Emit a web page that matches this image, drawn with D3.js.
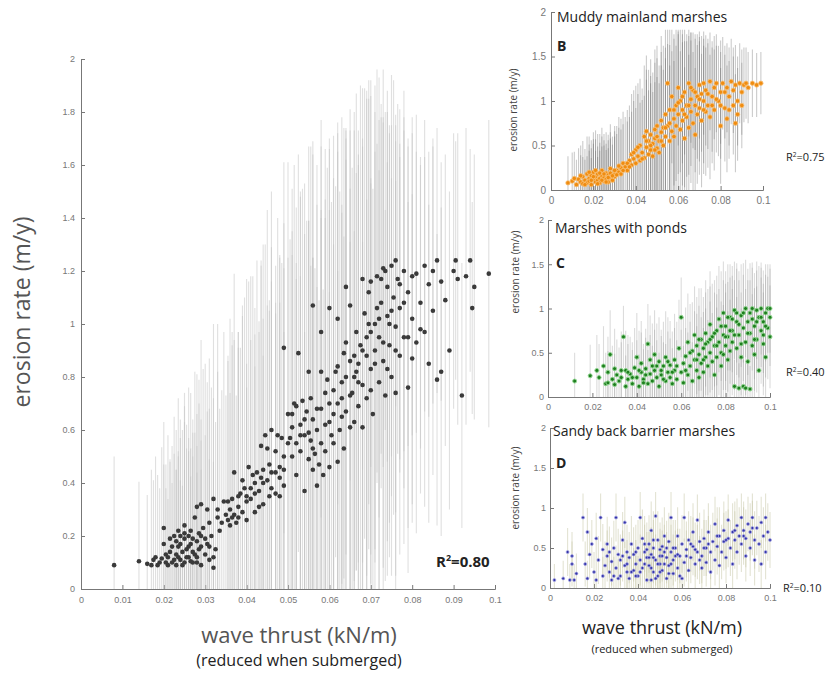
<html lang="en">
  <head>
    <meta charset="UTF-8" />
    <title>Erosion rate vs wave thrust</title>
    <script src="https://d3js.org/d3.v7.min.js"></script>
  </head>
  <style>
    body {
      margin: 0px;
      overflow: hidden;
      background: #fff;
    }
    .tick text {
      font-family: "Liberation Sans", Arial, sans-serif;
      fill: #777;
    }
    .lbl {
      font-family: "Open Sans", sans-serif;
    }
  </style>
  <body>
    <svg width="834" height="674"></svg>
  </body>
  <footer>
    <script>
      // [wave thrust, erosion rate, error half-width]
      var mainPts = [
        [0.008,0.09,0.41],[0.014,0.105,0.3],[0.016,0.095,0.26],[0.017,0.09,0.36],[0.018,0.12,0.38],[0.019,0.1,0.28],
        [0.0195,0.115,0.42],[0.02,0.23,0.4],[0.02,0.17,0.3],[0.0205,0.13,0.34],[0.021,0.09,0.25],[0.021,0.12,0.46],
        [0.022,0.16,0.38],[0.022,0.1,0.3],[0.0225,0.2,0.45],[0.023,0.13,0.32],[0.023,0.09,0.36],[0.0235,0.22,0.5],
        [0.024,0.17,0.4],[0.024,0.11,0.3],[0.0245,0.14,0.46],[0.025,0.21,0.42],[0.025,0.19,0.5],[0.025,0.1,0.35],
        [0.0255,0.15,0.38],[0.026,0.12,0.45],[0.026,0.2,0.56],[0.0265,0.17,0.36],[0.027,0.1,0.4],[0.027,0.14,0.5],
        [0.0275,0.27,0.55],[0.028,0.12,0.42],[0.028,0.18,0.48],[0.0285,0.21,0.58],[0.029,0.16,0.4],[0.029,0.09,0.36],
        [0.0295,0.23,0.6],[0.03,0.13,0.45],[0.03,0.19,0.66],[0.031,0.11,0.38],[0.031,0.16,0.52],[0.032,0.08,0.4],
        [0.032,0.12,0.6],[0.0325,0.15,0.48],[0.0315,0.2,0.56],[0.0265,0.105,0.32],[0.0235,0.12,0.4],[0.0215,0.14,0.34],
        [0.028,0.31,0.5],[0.029,0.32,0.62],[0.0305,0.3,0.48],[0.032,0.34,0.66],[0.033,0.27,0.55],[0.0335,0.22,0.46],
        [0.033,0.3,0.7],[0.034,0.25,0.5],[0.0345,0.33,0.64],[0.035,0.28,0.45],[0.0355,0.26,0.6],[0.036,0.3,0.72],
        [0.036,0.24,0.5],[0.0365,0.34,0.58],[0.037,0.28,0.66],[0.0375,0.25,0.48],[0.037,0.44,0.75],[0.038,0.31,0.6],
        [0.038,0.27,0.7],[0.0385,0.36,0.55],[0.039,0.29,0.78],[0.039,0.41,0.62],[0.04,0.33,0.52],[0.04,0.35,0.82],
        [0.0405,0.46,0.7],[0.041,0.34,0.6],[0.041,0.38,0.8],[0.042,0.4,0.66],[0.042,0.29,0.55],[0.0425,0.44,0.8],
        [0.043,0.37,0.6],[0.043,0.31,0.7],[0.044,0.45,0.85],[0.044,0.32,0.56],[0.0445,0.58,0.72],[0.045,0.41,0.66],
        [0.045,0.53,0.9],[0.0455,0.47,0.62],[0.046,0.38,0.78],[0.046,0.6,0.9],[0.047,0.44,0.6],[0.047,0.36,0.72],
        [0.0475,0.58,0.82],[0.048,0.42,0.66],[0.048,0.35,0.9],[0.049,0.39,0.58],[0.049,0.45,0.76],[0.0435,0.54,0.7],
        [0.049,0.91,0.7],[0.0505,0.57,0.75],[0.05,0.66,0.95],[0.051,0.61,0.65],[0.051,0.5,0.85],[0.0515,0.7,0.9],
        [0.052,0.55,0.62],[0.052,0.43,0.8],[0.0525,0.89,0.75],[0.053,0.62,0.88],[0.053,0.52,0.66],[0.0535,0.71,0.8],
        [0.054,0.58,0.95],[0.054,0.37,0.6],[0.0545,0.67,0.72],[0.055,0.49,0.9],[0.055,0.82,0.85],[0.0555,0.56,0.66],
        [0.056,0.45,0.8],[0.056,0.64,1.0],[0.0565,0.51,0.7],[0.057,0.39,0.75],[0.057,0.68,0.92],[0.0575,0.47,0.62],
        [0.058,0.55,0.85],[0.058,0.82,0.95],[0.0585,0.43,0.7],[0.059,0.62,0.78],[0.059,0.52,0.95],[0.06,0.7,1.0],
        [0.06,0.46,0.66],[0.0605,0.58,0.88],[0.061,0.75,0.8],[0.061,0.66,1.05],[0.062,0.84,0.92],[0.062,0.48,0.72],
        [0.0625,0.6,0.9],[0.063,0.72,0.7],[0.063,0.78,1.0],[0.0635,0.53,0.8],[0.064,0.67,0.95],[0.064,0.93,0.8],
        [0.065,0.61,0.7],[0.065,0.86,0.95],[0.0655,0.74,0.85],[0.066,0.8,1.0],[0.066,0.63,0.72],[0.0665,0.97,0.9],
        [0.067,0.69,0.95],[0.067,0.85,0.75],[0.0675,0.92,0.98],[0.068,0.61,0.7],[0.068,0.77,0.9],[0.0685,1.04,0.85],
        [0.069,0.88,1.0],[0.069,0.72,0.75],[0.0695,1.12,0.8],[0.07,0.97,0.95],[0.07,0.83,0.7],[0.0705,0.66,0.85],
        [0.071,1.0,0.9],[0.071,0.9,0.75],[0.0715,1.18,0.78],[0.072,0.78,0.8],[0.072,0.95,0.98],[0.0725,1.08,0.7],
        [0.073,0.86,0.9],[0.073,1.21,0.75],[0.0735,0.73,0.7],[0.074,1.03,0.85],[0.074,1.14,0.66],[0.0745,0.92,0.8],
        [0.075,1.22,0.72],[0.075,0.8,0.75],[0.0755,1.1,0.82],[0.076,0.99,0.7],[0.076,0.74,0.8],[0.0765,1.17,0.66],
        [0.077,0.88,0.75],[0.077,1.06,0.62],[0.078,1.2,0.68],[0.078,0.95,0.78],[0.079,0.76,0.7],[0.079,1.12,0.58],
        [0.08,1.02,0.7],[0.08,0.87,0.62],[0.081,1.19,0.6],[0.081,0.93,0.72],[0.082,1.08,0.55],[0.083,1.22,0.55],
        [0.083,0.97,0.66],[0.084,0.85,0.6],[0.084,1.15,0.5],[0.085,1.05,0.62],[0.086,0.79,0.55],[0.086,1.24,0.5],
        [0.087,0.82,0.62],[0.087,1.16,0.45],[0.088,1.09,0.55],[0.089,0.9,0.6],[0.09,1.2,0.52],[0.0905,1.24,0.45],
        [0.091,1.17,0.55],[0.092,0.73,0.5],[0.093,1.18,0.56],[0.094,1.24,0.42],[0.095,1.14,0.5],[0.0945,1.06,0.4],
        [0.0985,1.19,0.58],[0.07,1.16,0.7],[0.0715,1.06,0.62],[0.0735,1.2,0.6],[0.076,1.24,0.55],[0.0745,1.0,0.75],
        [0.068,1.17,0.72],[0.065,1.07,0.66],[0.064,1.14,0.6],[0.062,1.02,0.7],[0.06,1.06,0.6],[0.058,0.97,0.7],
        [0.056,1.07,0.62],
        [0.0215,0.19,0.3],[0.0225,0.11,0.4],[0.0235,0.16,0.34],[0.024,0.2,0.44],[0.0245,0.09,0.3],[0.0255,0.12,0.5],
        [0.026,0.16,0.36],[0.0265,0.22,0.52],[0.027,0.19,0.4],[0.0275,0.13,0.46],[0.028,0.1,0.34],[0.0285,0.15,0.55],
        [0.029,0.2,0.44],[0.0305,0.17,0.5],[0.031,0.25,0.62],[0.0175,0.11,0.3],[0.0185,0.09,0.34],[0.0205,0.1,0.28],
        [0.025,0.24,0.5],[0.023,0.18,0.42],[0.0355,0.33,0.55],[0.0365,0.27,0.7],[0.038,0.35,0.62],[0.0395,0.38,0.72],
        [0.04,0.26,0.5],[0.0415,0.43,0.75],[0.042,0.36,0.6],[0.0435,0.42,0.8],[0.044,0.4,0.62],[0.0455,0.35,0.7],
        [0.046,0.44,0.85],[0.047,0.52,0.7],[0.048,0.46,0.8],[0.0485,0.57,0.66],[0.049,0.5,0.88],[0.05,0.55,0.7],
        [0.051,0.66,0.85],[0.052,0.69,0.75],[0.053,0.58,0.9],[0.054,0.64,0.7],[0.055,0.59,0.8],[0.0555,0.72,0.95],
        [0.056,0.53,0.72],[0.057,0.6,0.85],[0.058,0.68,0.75],[0.059,0.74,0.92],[0.06,0.63,0.8],[0.061,0.55,0.75],
        [0.062,0.7,0.95],[0.063,0.65,0.8],[0.064,0.8,0.9],[0.065,0.73,0.78],[0.066,0.88,0.85],[0.067,0.78,0.95],
        [0.068,0.9,0.8],[0.069,0.95,0.9],[0.07,0.75,0.8],[0.071,0.85,0.95],[0.072,1.02,0.75],[0.073,0.93,0.85],
        [0.074,0.83,0.78],[0.075,1.05,0.7],[0.076,0.9,0.85],[0.077,1.15,0.66],[0.078,1.08,0.7],[0.079,0.95,0.72],
        [0.08,1.18,0.6],[0.082,0.98,0.62],[0.085,1.2,0.5],[0.0725,1.17,0.66],[0.0695,1.0,0.85],[0.0665,0.82,0.75],
        [0.0635,0.89,0.85],[0.0615,0.82,0.7],[0.0595,0.79,0.8]
      ];

      var muddyPts = [
        [0.008,0.08,0.3],[0.01,0.1,0.32],[0.012,0.06,0.28],[0.013,0.12,0.35],[0.014,0.09,0.3],[0.015,0.15,0.4],
        [0.015,0.07,0.3],[0.016,0.11,0.35],[0.017,0.18,0.42],[0.017,0.08,0.3],[0.018,0.13,0.38],[0.018,0.1,0.34],
        [0.019,0.16,0.4],[0.019,0.06,0.3],[0.02,0.12,0.4],[0.02,0.2,0.45],[0.021,0.09,0.35],[0.021,0.15,0.42],
        [0.022,0.11,0.38],[0.022,0.18,0.45],[0.023,0.13,0.4],[0.023,0.08,0.36],[0.024,0.16,0.44],[0.024,0.22,0.48],
        [0.025,0.1,0.4],[0.025,0.14,0.42],[0.026,0.19,0.46],[0.026,0.12,0.4],[0.027,0.09,0.38],[0.027,0.17,0.45],
        [0.028,0.14,0.44],[0.028,0.24,0.5],[0.029,0.11,0.4],[0.03,0.18,0.48],[0.03,0.15,0.45],[0.031,0.22,0.5],
        [0.032,0.2,0.5],[0.033,0.25,0.55],[0.033,0.18,0.5],[0.034,0.3,0.58],[0.035,0.26,0.56],[0.036,0.22,0.55],
        [0.037,0.33,0.62],[0.038,0.28,0.6],[0.038,0.4,0.68],[0.039,0.35,0.65],[0.04,0.3,0.62],[0.04,0.45,0.72],
        [0.041,0.38,0.7],[0.042,0.5,0.75],[0.042,0.33,0.65],[0.043,0.42,0.72],[0.044,0.6,0.8],[0.044,0.36,0.7],
        [0.045,0.48,0.76],[0.045,0.66,0.85],[0.046,0.4,0.72],[0.046,0.55,0.8],[0.047,0.45,0.75],[0.047,0.62,0.85],
        [0.048,0.52,0.8],[0.048,0.38,0.72],[0.049,0.58,0.85],[0.049,0.68,0.9],[0.05,0.47,0.8],[0.05,0.6,0.88],
        [0.051,0.42,0.78],[0.051,0.55,0.85],[0.052,0.65,0.9],[0.052,0.78,0.95],[0.053,0.5,0.85],[0.053,0.7,0.92],
        [0.054,0.85,0.95],[0.054,0.6,0.88],[0.055,0.72,0.92],[0.055,1.2,0.6],[0.056,0.55,0.85],[0.056,0.9,0.9],
        [0.057,0.66,0.9],[0.057,1.05,0.75],[0.058,0.8,0.9],[0.058,0.6,0.85],[0.059,0.95,0.85],[0.059,0.72,0.9],
        [0.06,0.85,0.9],[0.06,1.15,0.65],[0.061,0.68,0.88],[0.061,1.0,0.8],[0.062,0.9,0.85],[0.062,0.78,0.88],
        [0.063,1.1,0.7],[0.063,0.58,0.8],[0.064,0.95,0.8],[0.064,0.82,0.85],[0.065,1.2,0.6],[0.065,0.7,0.82],
        [0.066,1.02,0.75],[0.066,0.88,0.8],[0.067,0.75,0.8],[0.067,1.12,0.65],[0.068,0.95,0.75],[0.068,0.62,0.75],
        [0.069,1.05,0.7],[0.069,0.85,0.78],[0.07,1.18,0.6],[0.07,0.92,0.75],[0.071,0.78,0.75],[0.071,1.08,0.65],
        [0.072,1.0,0.7],[0.072,1.2,0.58],[0.073,0.88,0.72],[0.073,1.12,0.62],[0.074,0.95,0.7],[0.075,1.22,0.55],
        [0.075,0.82,0.7],[0.076,1.05,0.62],[0.077,1.15,0.58],[0.077,0.9,0.68],[0.078,1.2,0.55],[0.079,1.0,0.62],
        [0.08,1.1,0.58],[0.08,0.72,0.65],[0.081,1.2,0.52],[0.082,0.92,0.6],[0.083,1.15,0.5],[0.083,0.8,0.6],
        [0.084,1.05,0.55],[0.085,1.22,0.48],[0.086,0.95,0.55],[0.087,1.18,0.45],[0.087,0.75,0.55],[0.088,0.85,0.52],
        [0.089,1.2,0.45],[0.09,1.1,0.48],[0.091,1.18,0.42],[0.092,1.2,0.4],[0.093,1.15,0.4],[0.095,1.2,0.38],
        [0.097,1.18,0.36],[0.099,1.2,0.35],
        [0.011,0.13,0.3],[0.014,0.16,0.34],[0.016,0.06,0.28],[0.018,0.2,0.4],[0.019,0.11,0.36],[0.02,0.15,0.42],
        [0.021,0.22,0.45],[0.022,0.07,0.3],[0.023,0.19,0.44],[0.024,0.11,0.38],[0.025,0.18,0.45],[0.026,0.09,0.36],
        [0.027,0.14,0.42],[0.028,0.19,0.46],[0.029,0.16,0.44],[0.03,0.22,0.5],[0.031,0.17,0.46],[0.032,0.27,0.55],
        [0.034,0.22,0.52],[0.036,0.3,0.6],[0.037,0.26,0.56],[0.039,0.42,0.7],[0.041,0.48,0.72],[0.043,0.35,0.66],
        [0.045,0.55,0.8],[0.047,0.5,0.78],[0.049,0.45,0.76],[0.05,0.72,0.9],[0.052,0.55,0.85],[0.054,0.7,0.9],
        [0.056,0.75,0.88],[0.058,0.9,0.85],[0.06,0.98,0.8],[0.062,1.05,0.75],[0.063,0.85,0.82],[0.065,0.95,0.78],
        [0.066,1.15,0.62],[0.068,1.1,0.65],[0.07,1.02,0.7],[0.072,0.9,0.72],[0.074,1.08,0.62],[0.076,0.95,0.65],
        [0.078,1.02,0.6],[0.08,0.95,0.6],[0.082,1.1,0.52],[0.084,0.9,0.55],[0.086,1.12,0.48],[0.088,1.0,0.5],
        [0.09,0.95,0.48]
      ];

      var pondPts = [
        [0.012,0.18,0.32],[0.019,0.24,0.35],[0.022,0.3,0.4],[0.023,0.22,0.38],[0.025,0.35,0.45],[0.026,0.15,0.35],
        [0.027,0.28,0.4],[0.028,0.48,0.5],[0.029,0.2,0.38],[0.03,0.14,0.35],[0.03,0.32,0.45],[0.031,0.25,0.4],
        [0.032,0.18,0.38],[0.033,0.22,0.4],[0.034,0.68,0.35],[0.035,0.3,0.45],[0.035,0.12,0.35],[0.036,0.2,0.4],
        [0.037,0.26,0.42],[0.038,0.15,0.38],[0.039,0.33,0.45],[0.04,0.22,0.42],[0.04,0.45,0.5],[0.041,0.12,0.36],
        [0.042,0.28,0.45],[0.042,0.38,0.48],[0.043,0.2,0.4],[0.044,0.32,0.45],[0.045,0.15,0.38],[0.045,0.6,0.45],
        [0.046,0.26,0.44],[0.046,0.42,0.5],[0.047,0.35,0.48],[0.047,0.18,0.4],[0.048,0.3,0.46],[0.048,0.48,0.5],
        [0.049,0.22,0.42],[0.05,0.4,0.5],[0.05,0.12,0.38],[0.051,0.3,0.46],[0.051,0.25,0.44],[0.052,0.35,0.5],
        [0.053,0.18,0.42],[0.053,0.45,0.52],[0.054,0.28,0.46],[0.055,0.22,0.44],[0.055,0.36,0.5],[0.056,0.15,0.4],
        [0.057,0.3,0.48],[0.057,0.42,0.52],[0.058,0.2,0.44],[0.059,0.55,0.55],[0.06,0.28,0.48],[0.06,0.9,0.45],
        [0.061,0.38,0.52],[0.061,0.16,0.42],[0.062,0.46,0.55],[0.063,0.25,0.48],[0.063,0.62,0.55],[0.064,0.35,0.5],
        [0.065,0.52,0.55],[0.065,0.18,0.44],[0.066,0.42,0.55],[0.066,0.7,0.55],[0.067,0.3,0.5],[0.067,0.58,0.55],
        [0.068,0.48,0.55],[0.068,0.22,0.46],[0.069,0.65,0.58],[0.069,0.38,0.52],[0.07,0.55,0.58],[0.07,0.28,0.5],
        [0.071,0.72,0.6],[0.071,0.45,0.55],[0.072,0.35,0.52],[0.072,0.62,0.6],[0.073,0.5,0.58],[0.073,0.82,0.6],
        [0.074,0.4,0.55],[0.074,0.68,0.6],[0.075,0.58,0.6],[0.075,0.25,0.5],[0.076,0.75,0.62],[0.076,0.45,0.56],
        [0.077,0.62,0.6],[0.077,0.88,0.6],[0.078,0.5,0.58],[0.078,0.35,0.54],[0.079,0.7,0.62],[0.079,0.95,0.58],
        [0.08,0.58,0.6],[0.08,0.8,0.62],[0.081,0.42,0.55],[0.081,0.68,0.62],[0.082,0.9,0.6],[0.082,0.52,0.58],
        [0.083,0.75,0.62],[0.083,0.62,0.6],[0.084,0.98,0.55],[0.084,0.12,0.3],[0.085,0.85,0.6],[0.085,0.55,0.58],
        [0.086,0.7,0.62],[0.086,0.1,0.28],[0.087,0.92,0.58],[0.087,0.45,0.55],[0.088,0.78,0.6],[0.088,0.12,0.3],
        [0.089,0.62,0.6],[0.089,1.0,0.55],[0.09,0.85,0.6],[0.09,0.4,0.54],[0.091,0.72,0.6],[0.091,0.95,0.56],
        [0.092,0.58,0.58],[0.092,0.88,0.58],[0.093,0.8,0.6],[0.093,0.48,0.55],[0.094,0.98,0.55],[0.094,0.65,0.6],
        [0.095,0.9,0.58],[0.095,0.3,0.5],[0.096,0.75,0.6],[0.096,1.0,0.52],[0.097,0.6,0.58],[0.097,0.85,0.58],
        [0.098,0.95,0.55],[0.098,0.45,0.55],[0.099,0.78,0.58],[0.099,1.0,0.5],[0.1,0.9,0.55],[0.1,0.68,0.58],
        [0.089,0.1,0.28],[0.091,0.09,0.26],
        [0.027,0.16,0.36],[0.033,0.3,0.44],[0.036,0.28,0.42],[0.038,0.22,0.4],[0.041,0.3,0.45],[0.043,0.16,0.38],
        [0.044,0.25,0.42],[0.049,0.35,0.48],[0.052,0.2,0.42],[0.054,0.4,0.5],[0.056,0.28,0.46],[0.058,0.35,0.5],
        [0.062,0.3,0.48],[0.064,0.5,0.55],[0.067,0.42,0.52],[0.068,0.65,0.58],[0.07,0.42,0.54],[0.071,0.6,0.58],
        [0.073,0.65,0.6],[0.075,0.72,0.6],[0.076,0.58,0.58],[0.078,0.8,0.62],[0.079,0.48,0.56],[0.08,0.68,0.6],
        [0.081,0.9,0.6],[0.082,0.75,0.6],[0.083,0.88,0.6],[0.084,0.7,0.62],[0.085,0.95,0.56],[0.086,0.82,0.6],
        [0.087,0.6,0.58],[0.088,0.95,0.56],[0.09,0.72,0.6],[0.092,1.0,0.52],[0.093,0.65,0.58],[0.094,0.85,0.58],
        [0.096,0.9,0.56],[0.097,0.7,0.58],[0.098,0.8,0.58],[0.1,1.0,0.5]
      ];

      var sandyPts = [
        [0.002,0.1,0.2],[0.006,0.12,0.22],[0.008,0.45,0.3],[0.009,0.1,0.2],[0.01,0.3,0.28],[0.01,0.4,0.3],
        [0.011,0.1,0.2],[0.012,0.18,0.25],[0.015,0.88,0.3],[0.016,0.3,0.28],[0.017,0.7,0.3],[0.017,0.12,0.22],
        [0.018,0.42,0.3],[0.019,0.55,0.3],[0.02,0.2,0.25],[0.021,0.62,0.32],[0.021,0.1,0.2],[0.022,0.35,0.3],
        [0.023,0.88,0.3],[0.024,0.48,0.32],[0.024,0.15,0.24],[0.025,0.28,0.3],[0.026,0.4,0.32],[0.026,0.55,0.34],
        [0.027,0.2,0.26],[0.028,0.33,0.3],[0.028,0.1,0.22],[0.029,0.5,0.34],[0.03,0.88,0.3],[0.03,0.25,0.28],
        [0.031,0.42,0.32],[0.032,0.15,0.25],[0.032,0.35,0.32],[0.033,0.6,0.35],[0.034,0.28,0.3],[0.034,0.82,0.32],
        [0.035,0.45,0.34],[0.036,0.12,0.24],[0.036,0.38,0.32],[0.037,0.55,0.35],[0.038,0.22,0.28],[0.038,0.42,0.34],
        [0.039,0.3,0.3],[0.04,0.5,0.35],[0.04,0.15,0.25],[0.041,0.88,0.32],[0.041,0.35,0.32],[0.042,0.62,0.36],
        [0.042,0.25,0.3],[0.043,0.45,0.34],[0.044,0.1,0.22],[0.044,0.38,0.32],[0.045,0.55,0.36],[0.045,0.28,0.3],
        [0.046,0.72,0.36],[0.046,0.42,0.34],[0.047,0.2,0.28],[0.047,0.5,0.35],[0.048,0.35,0.32],[0.048,0.9,0.3],
        [0.049,0.6,0.36],[0.049,0.15,0.25],[0.05,0.4,0.34],[0.05,0.3,0.3],[0.051,0.52,0.36],[0.051,0.22,0.28],
        [0.052,0.65,0.36],[0.052,0.45,0.34],[0.053,0.12,0.24],[0.053,0.38,0.32],[0.054,0.58,0.36],[0.054,0.28,0.3],
        [0.055,0.88,0.32],[0.055,0.45,0.34],[0.056,0.18,0.26],[0.056,0.35,0.32],[0.057,0.5,0.35],[0.058,0.25,0.3],
        [0.058,0.65,0.36],[0.059,0.4,0.34],[0.06,0.55,0.36],[0.06,0.12,0.24],[0.061,0.32,0.3],[0.061,0.88,0.3],
        [0.062,0.48,0.35],[0.063,0.22,0.28],[0.063,0.6,0.36],[0.064,0.38,0.32],[0.065,0.52,0.36],[0.065,0.7,0.36],
        [0.066,0.3,0.3],[0.067,0.45,0.34],[0.067,0.85,0.32],[0.068,0.58,0.36],[0.069,0.25,0.3],[0.069,0.4,0.34],
        [0.07,0.62,0.36],[0.071,0.5,0.35],[0.071,0.32,0.3],[0.072,0.7,0.36],[0.073,0.45,0.34],[0.073,0.2,0.28],
        [0.074,0.58,0.36],[0.075,0.8,0.34],[0.075,0.35,0.32],[0.076,0.52,0.35],[0.077,0.65,0.36],[0.077,0.28,0.3],
        [0.078,0.45,0.34],[0.079,0.72,0.36],[0.079,0.58,0.36],[0.08,0.38,0.32],[0.081,0.62,0.36],[0.081,0.85,0.32],
        [0.082,0.5,0.35],[0.083,0.7,0.36],[0.083,0.3,0.3],[0.084,0.6,0.36],[0.085,0.78,0.34],[0.085,0.45,0.34],
        [0.086,0.65,0.36],[0.087,0.88,0.3],[0.087,0.55,0.35],[0.088,0.72,0.36],[0.089,0.4,0.32],[0.089,0.62,0.36],
        [0.09,0.8,0.34],[0.091,0.5,0.35],[0.091,0.7,0.36],[0.092,0.88,0.3],[0.093,0.6,0.36],[0.093,0.35,0.32],
        [0.094,0.75,0.34],[0.095,0.55,0.35],[0.096,0.82,0.32],[0.096,0.3,0.3],[0.097,0.65,0.36],[0.098,0.88,0.3],
        [0.098,0.45,0.34],[0.099,0.7,0.36],[0.1,0.6,0.35],[0.031,0.12,0.24],[0.035,0.2,0.26],[0.039,0.15,0.25],
        [0.043,0.3,0.3],[0.046,0.25,0.28],[0.048,0.12,0.24],[0.05,0.48,0.34],[0.052,0.3,0.3],[0.054,0.18,0.26],
        [0.057,0.4,0.32],[0.044,0.48,0.34],[0.047,0.38,0.32],
        [0.027,0.45,0.32],[0.029,0.15,0.24],[0.033,0.4,0.32],[0.035,0.3,0.3],[0.037,0.2,0.26],[0.039,0.45,0.34],
        [0.041,0.2,0.26],[0.043,0.55,0.35],[0.045,0.38,0.32],[0.046,0.1,0.22],[0.047,0.6,0.36],[0.049,0.3,0.3],
        [0.05,0.2,0.26],[0.051,0.4,0.32],[0.053,0.5,0.34],[0.055,0.3,0.3],[0.056,0.5,0.35],[0.058,0.42,0.32],
        [0.059,0.15,0.24],[0.062,0.4,0.32],[0.064,0.55,0.35],[0.066,0.48,0.34],[0.068,0.35,0.3],[0.07,0.5,0.35],
        [0.072,0.55,0.35],[0.076,0.65,0.36],[0.08,0.6,0.36],[0.084,0.72,0.36],[0.088,0.65,0.36],[0.092,0.75,0.34]
      ];

      var mainXTicks = [0, 0.01, 0.02, 0.03, 0.04, 0.05, 0.06, 0.07, 0.08, 0.09, 0.1];
      var mainYTicks = [0, 0.2, 0.4, 0.6, 0.8, 1, 1.2, 1.4, 1.6, 1.8, 2];
      var smallXTicks = [0, 0.02, 0.04, 0.06, 0.08, 0.1];
      var smallYTicks = [0, 0.5, 1, 1.5, 2];

      var svg = d3.select("svg");

      function drawPanel(pts, o) {
        var x = d3.scaleLinear().domain([0, 0.1]).range(o.xr);
        var y = d3.scaleLinear().domain([0, 2]).range(o.yr);
        var g = svg.append("g");

        // axes first, error bars sit on top of the inward ticks
        var ax = g.append("g")
          .attr("transform", "translate(0," + o.yr[0] + ")")
          .call(d3.axisBottom(x).tickValues(o.xt).tickSize(-4).tickPadding(o.xpad)
            .tickFormat(d3.format("~g")));
        var ay = g.append("g")
          .attr("transform", "translate(" + o.xr[0] + ",0)")
          .call(d3.axisLeft(y).tickValues(o.yt).tickSize(-4).tickPadding(o.ypad)
            .tickFormat(d3.format("~g")));
        [ax, ay].forEach(function (a) {
          a.select(".domain").attr("stroke", "#777");
          a.selectAll(".tick line").attr("stroke", "#777");
          a.selectAll(".tick text").attr("font-size", o.tickFont);
        });

        g.append("g")
          .selectAll("line")
          .data(pts)
          .enter()
          .append("line")
          .attr("x1", function (d) { return x(d[0]); })
          .attr("x2", function (d) { return x(d[0]); })
          .attr("y1", function (d) { return y(Math.max(0, d[1] - d[2])); })
          .attr("y2", function (d) { return y(Math.min(2, d[1] + d[2])); })
          .attr("stroke", o.barColor)
          .attr("stroke-opacity", o.barOpacity)
          .attr("stroke-width", 1.1);

        g.append("g")
          .selectAll("circle")
          .data(pts)
          .enter()
          .append("circle")
          .attr("cx", function (d) { return x(d[0]); })
          .attr("cy", function (d) { return y(d[1]); })
          .attr("r", o.r)
          .attr("fill", o.fill)
          .attr("stroke", o.stroke)
          .attr("stroke-width", o.strokeW);
      }

      drawPanel(mainPts, {
        xr: [81, 495], yr: [589, 59], xt: mainXTicks, yt: mainYTicks,
        xpad: 8, ypad: 6, tickFont: 9,
        barColor: "#c2c2c2", barOpacity: 0.5,
        r: 2.3, fill: "#3a3a3a", stroke: "none", strokeW: 0
      });
      drawPanel(muddyPts, {
        xr: [551, 763], yr: [190, 12], xt: smallXTicks, yt: smallYTicks,
        xpad: 7, ypad: 5, tickFont: 10,
        barColor: "#6a6a6a", barOpacity: 0.35,
        r: 2.2, fill: "#f08c10", stroke: "#f7c27a", strokeW: 0.8
      });
      drawPanel(pondPts, {
        xr: [548, 770], yr: [397, 220], xt: smallXTicks, yt: smallYTicks,
        xpad: 7, ypad: 4, tickFont: 9,
        barColor: "#8a8a8a", barOpacity: 0.3,
        r: 2, fill: "#1f7d1f", stroke: "#8fd68f", strokeW: 1
      });
      drawPanel(sandyPts, {
        xr: [550, 770], yr: [588, 428], xt: smallXTicks, yt: smallYTicks,
        xpad: 7, ypad: 4, tickFont: 9,
        barColor: "#c8c8a8", barOpacity: 0.5,
        r: 1.5, fill: "#3434a8", stroke: "#a8a8e6", strokeW: 0.7
      });

      // titles and labels
      function label(txt, x, y, size, color, opts) {
        opts = opts || {};
        var t = svg.append("text")
          .attr("class", "lbl")
          .attr("x", x)
          .attr("y", y)
          .attr("font-size", size)
          .attr("fill", color)
          .attr("text-anchor", opts.anchor || "start")
          .attr("font-weight", opts.weight || "normal")
          .text(txt);
        if (opts.rotate) t.attr("transform", "rotate(-90," + x + "," + y + ")");
        return t;
      }

      label("erosion rate (m/y)", 30, 312, 23, "#555", { anchor: "middle", rotate: true });
      label("wave thrust (kN/m)", 299, 643, 22, "#555", { anchor: "middle" });
      label("(reduced when submerged)", 299, 666, 16, "#222", { anchor: "middle" });

      label("erosion rate (m/y)", 517, 110, 10, "#444", { anchor: "middle", rotate: true });
      label("erosion rate (m/y)", 519, 272, 10, "#444", { anchor: "middle", rotate: true });
      label("erosion rate (m/y)", 519, 488, 10, "#444", { anchor: "middle", rotate: true });

      label("Muddy mainland marshes", 557, 22, 14, "#222");
      label("B", 557, 51, 14, "#222", { weight: "bold" });
      label("Marshes with ponds", 555, 233, 14, "#222");
      label("C", 556, 268, 14, "#222", { weight: "bold" });
      label("Sandy back barrier marshes", 553, 436, 14, "#222");
      label("D", 556, 468, 14, "#222", { weight: "bold" });

      label("wave thrust (kN/m)", 662, 634, 18, "#222", { anchor: "middle" });
      label("(reduced when submerged)", 662, 653, 11, "#222", { anchor: "middle" });

      function r2(val, x, y, size, weight) {
        var t = label("R", x, y, size, "#222", { weight: weight });
        t.append("tspan").attr("dy", -size * 0.4).attr("font-size", size * 0.6).text("2");
        t.append("tspan").attr("dy", size * 0.4).text("=" + val);
      }
      r2("0.80", 436, 567, 15, "bold");
      r2("0.75", 786, 161, 11, "normal");
      r2("0.40", 786, 376, 11, "normal");
      r2("0.10", 783, 592, 11, "normal");
    </script>
  </footer>
</html>
